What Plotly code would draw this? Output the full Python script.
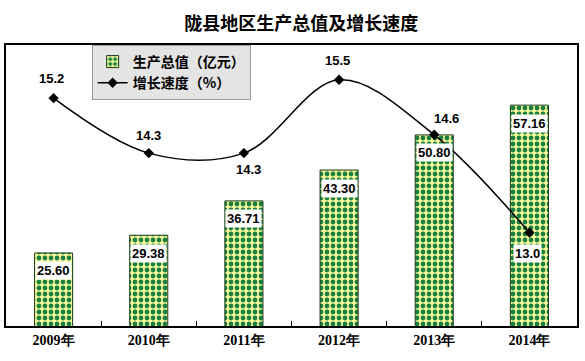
import plotly.graph_objects as go

years = ["2009年", "2010年", "2011年", "2012年", "2013年", "2014年"]
gdp = [25.60, 29.38, 36.71, 43.30, 50.80, 57.16]
growth = [15.2, 14.3, 14.3, 15.5, 14.6, 13.0]
gdp_labels = ["25.60", "29.38", "36.71", "43.30", "50.80", "57.16"]
growth_labels = ["15.2", "14.3", "14.3", "15.5", "14.6", "13.0"]

CJK = "Noto Sans CJK SC"
NUM = "Liberation Sans Narrow, Liberation Sans, Arial"
SERIF = "Liberation Serif, Times New Roman, serif"

fig = go.Figure()
fig.add_trace(go.Bar(
    x=years, y=gdp, name="生产总值（亿元）",
    width=0.4,
    marker=dict(color="#ffff99",
                line=dict(color="#1a3a1a", width=1),
                pattern=dict(shape=".", fgcolor="#1a8040", bgcolor="#f8f99a",
                             size=6, solidity=0.5, fgopacity=1)),
    yaxis="y", hoverinfo="skip",
))
fig.add_trace(go.Scatter(
    x=years, y=growth, name="增长速度（%）",
    mode="lines+markers",
    line=dict(color="black", width=1.5, shape="spline", smoothing=1),
    marker=dict(symbol="diamond", size=8, color="black"),
    yaxis="y2", hoverinfo="skip",
))

annotations = []
for x, v, t in zip(years, gdp, gdp_labels):
    annotations.append(dict(x=x, y=v, xref="x", yref="y", text="<b>" + t + "</b>",
                            showarrow=False, yshift=-18, bgcolor="white",
                            borderpad=1,
                            font=dict(family=NUM, size=13, color="black")))

offs = [(-2, 20), (0, 18), (5, -16), (-2, 19), (12, 16), (-2, -21)]
for (x, v, t), (dx, dy) in zip(zip(years, growth, growth_labels), offs):
    annotations.append(dict(x=x, y=v, xref="x", yref="y2", text="<b>" + t + "</b>",
                            showarrow=False, xshift=dx, yshift=dy,
                            bgcolor="white" if dy < -18 else "rgba(0,0,0,0)",
                            borderpad=1,
                            font=dict(family=NUM, size=13, color="black")))

fig.update_layout(
    width=585, height=361,
    margin=dict(l=6, r=6, t=45, b=35),
    paper_bgcolor="white", plot_bgcolor="white",
    title=dict(text="<b>陇县地区生产总值及增长速度</b>", x=0.515, xanchor="center",
               y=0.935, yanchor="middle",
               font=dict(family=CJK, size=18, color="black")),
    showlegend=True,
    legend=dict(x=0.15, y=1.0, xanchor="left", yanchor="top",
                bgcolor="#e4e4e4", bordercolor="#9a9a9a", borderwidth=1,
                font=dict(family=CJK, size=14, color="black", weight="bold"),
                tracegroupgap=0, itemwidth=30),
    annotations=annotations,
    bargap=0.6,
    xaxis=dict(type="category", showline=True, linecolor="black", linewidth=1.5,
               mirror=True, ticks="inside", ticklen=5, tickcolor="black",
               tickson="boundaries", showgrid=False,
               tickfont=dict(family=SERIF, size=14, color="black", weight="bold")),
    yaxis=dict(range=[10, 70], showticklabels=False, showgrid=False, zeroline=False,
               showline=True, linecolor="black", linewidth=1.5, mirror=True, ticks=""),
    yaxis2=dict(range=[11.47, 16.07], overlaying="y", side="right", showticklabels=False,
                showgrid=False, zeroline=False, showline=False, ticks=""),
)

fig.write_html("out.html", config={"displayModeBar": False},
               post_script="document.body.style.margin='0px';")
